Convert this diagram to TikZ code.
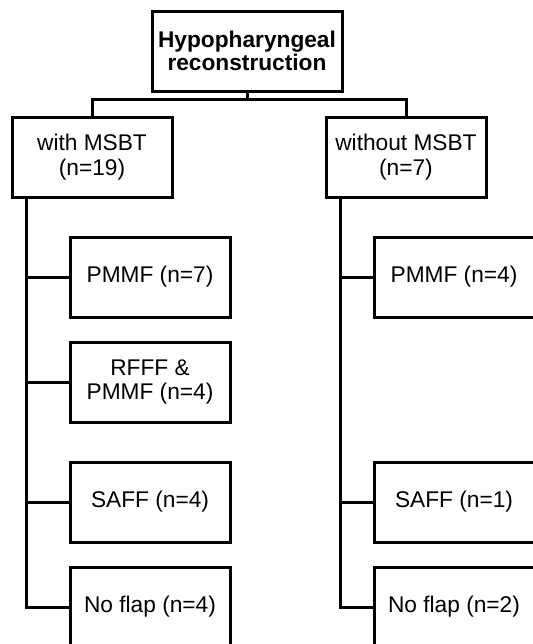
\documentclass[tikz,border=0pt]{standalone}
\usepackage{fontspec}
\setmainfont{Liberation Sans}
\usepackage{tikz}
\usetikzlibrary{positioning, calc}

\begin{document}
\begin{tikzpicture}[
    x=0.5pt, y=-0.5pt,
    every node/.style={font=\fontsize{11.35}{12.3}\selectfont},
    frame/.style={draw, line width=1.5pt, align=center, inner sep=2pt, minimum width=#1, minimum height=40pt},
    frame/.default=80pt,
    link/.style={line width=1.5pt}
]
    \clip (0,0) rectangle (533,644);

    % Root
    \node[frame=95pt, font=\fontsize{11.35}{11.6}\selectfont\bfseries] (root) at (247, 51) {Hypopharyngeal\\reconstruction};
    \coordinate (bar) at (247, 99);

    % Groups
    \node[frame] (msbt) at (92, 157) {with MSBT\\(n=19)};
    \node[frame] (nomsbt) at (406, 157) {without MSBT\\(n=7)};

    \draw[link] (root.south) -- (bar);
    \draw[link] (msbt.north) |- (bar) -| (nomsbt.north);

    % Flaps with MSBT
    \node[frame] (pmmfA) at (150, 277) {PMMF (n=7)};
    \node[frame] (rfff) at (150, 382) {RFFF \&\\PMMF (n=4)};
    \node[frame] (saffA) at (150, 502) {SAFF (n=4)};
    \node[frame] (noflapA) at (150, 607) {No flap (n=4)};

    % Flaps without MSBT
    \node[frame] (pmmfB) at (454, 277) {PMMF (n=4)};
    \node[frame] (saffB) at (454, 502) {SAFF (n=1)};
    \node[frame] (noflapB) at (454, 607) {No flap (n=2)};

    % Trunks
    \coordinate (trunkA) at ([xshift=8pt]msbt.south west);
    \coordinate (trunkB) at ([xshift=8pt]nomsbt.south west);
    \draw[link] (trunkA) |- (noflapA.west);
    \draw[link] (trunkB) |- (noflapB.west);

    % Branches
    \foreach \c in {pmmfA, rfff, saffA}
        \draw[link] (\c.west) -- (\c.west -| trunkA);
    \foreach \c in {pmmfB, saffB}
        \draw[link] (\c.west) -- (\c.west -| trunkB);
\end{tikzpicture}
\end{document}
